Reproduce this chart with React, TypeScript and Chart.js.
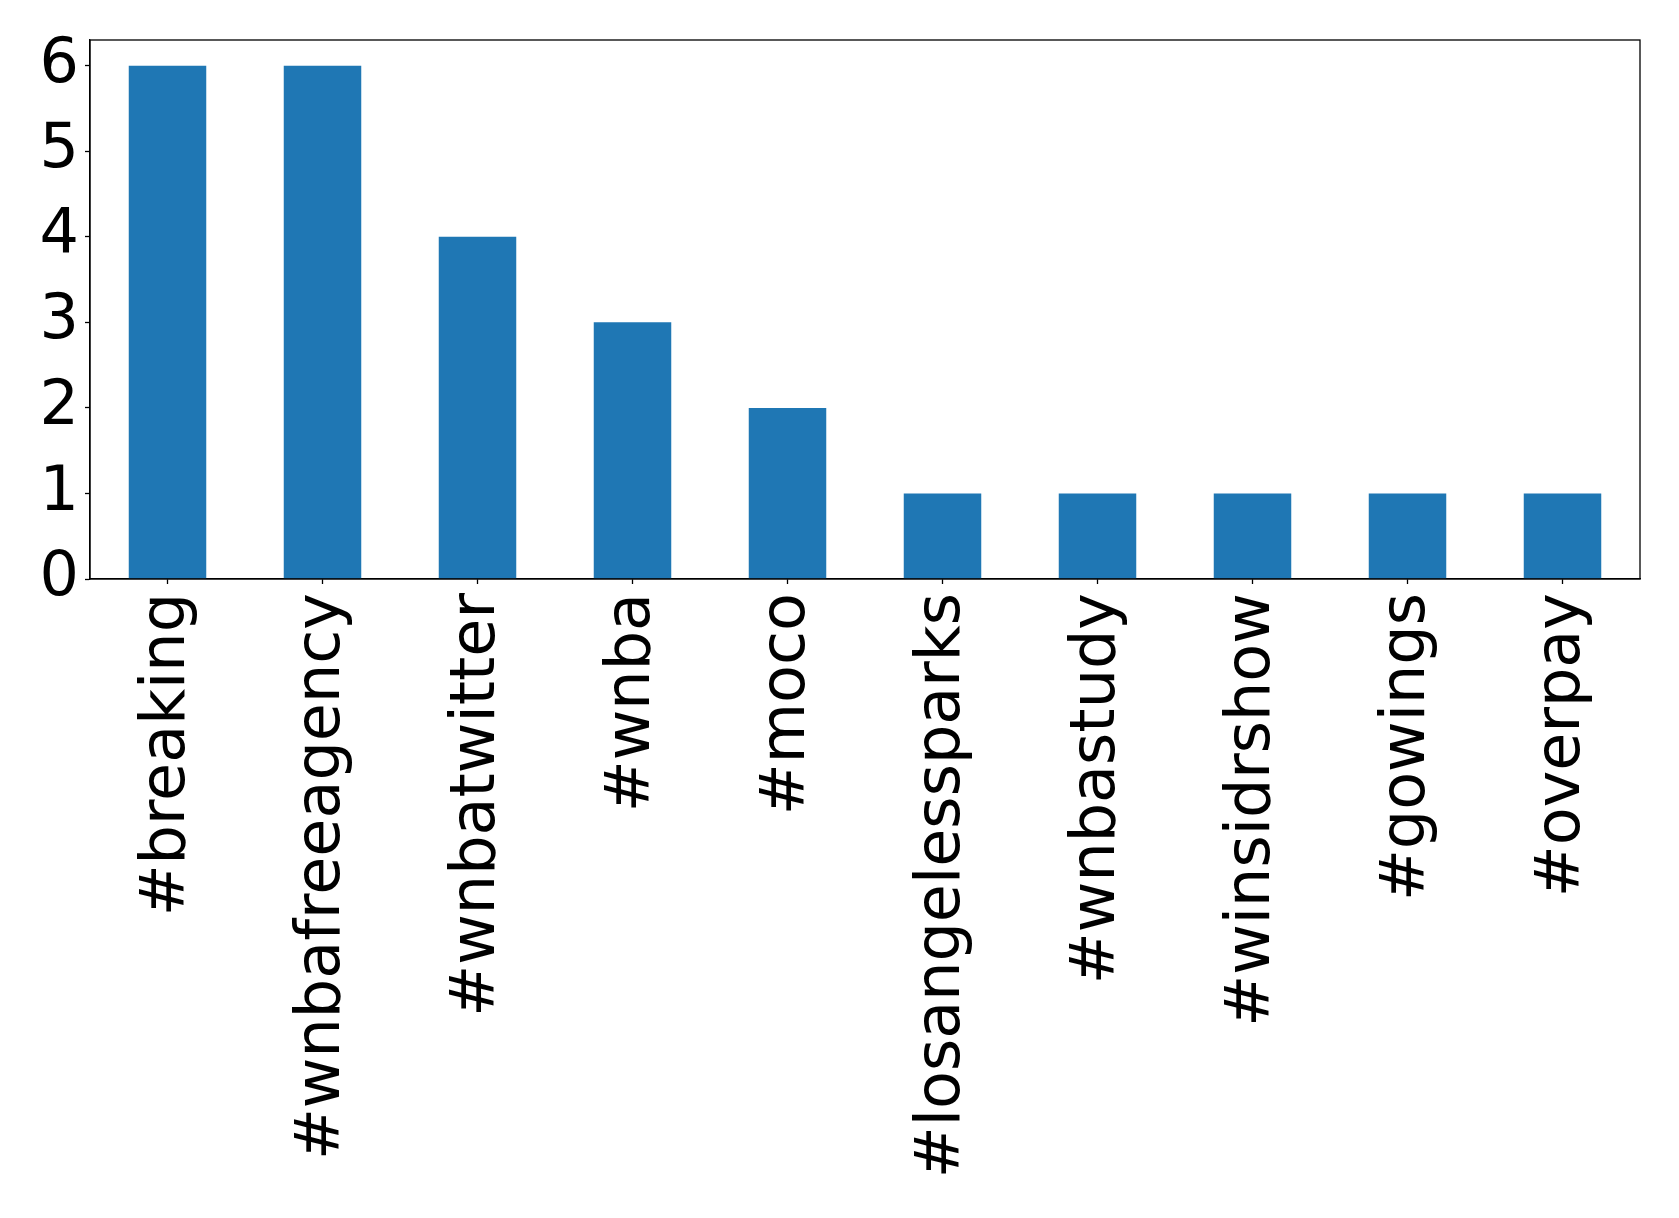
import React, { useEffect, useRef } from "react";
import { Chart, registerables } from "chart.js";

Chart.register(...registerables);

const categories = [
  "#breaking",
  "#wnbafreeagency",
  "#wnbatwitter",
  "#wnba",
  "#moco",
  "#losangelessparks",
  "#wnbastudy",
  "#winsidrshow",
  "#gowings",
  "#overpay",
];
const counts = [6, 6, 4, 3, 2, 1, 1, 1, 1, 1];
const yTicks = [0, 1, 2, 3, 4, 5, 6];

const W = 1679;
const H = 1218;
const FONT = "'DejaVu Sans', sans-serif";
const FONT_SIZE = 62;

const framePlugin = {
  id: "frame",
  afterDatasetsDraw(chart: any) {
    const { ctx, chartArea } = chart;
    ctx.save();
    ctx.strokeStyle = "#000";
    ctx.lineWidth = 1.3;
    ctx.strokeRect(chartArea.left, chartArea.top, chartArea.right - chartArea.left, chartArea.bottom - chartArea.top);
    ctx.restore();
  },
};

export default function App() {
  const ref = useRef<HTMLCanvasElement | null>(null);
  useEffect(() => {
    if (!ref.current) return;
    const chart = new Chart(ref.current, {
      type: "bar",
      data: {
        labels: categories,
        datasets: [
          {
            data: counts,
            backgroundColor: "#1f77b4",
            borderWidth: 0,
            barPercentage: 0.5,
            categoryPercentage: 1,
          },
        ],
      },
      options: {
        animation: false,
        responsive: false,
        maintainAspectRatio: false,
        layout: { padding: { top: 40, right: 39, left: 0, bottom: 0 } },
        plugins: { legend: { display: false }, tooltip: { enabled: false } },
        scales: {
          x: {
            grid: { offset: false, drawOnChartArea: false, drawTicks: true, tickLength: 5, tickColor: "#000", tickWidth: 1.3 },
            border: { display: true, color: "#000", width: 1.3 },
            ticks: {
              color: "#000",
              font: { family: FONT, size: FONT_SIZE },
              maxRotation: 90,
              minRotation: 90,
              autoSkip: false,
              padding: 9,
            },
            afterFit(scale: any) {
              scale.height = H - 579;
              scale.paddingLeft = 0;
              scale.paddingRight = 0;
            },
          },
          y: {
            min: 0,
            max: 6.3,
            afterBuildTicks(scale: any) {
              scale.ticks = yTicks.map((v) => ({ value: v }));
            },
            grid: { drawOnChartArea: false, drawTicks: true, tickLength: 5, tickColor: "#000", tickWidth: 1.3 },
            border: { display: true, color: "#000", width: 1.3 },
            ticks: {
              color: "#000",
              font: { family: FONT, size: FONT_SIZE },
              padding: 6,
            },
            afterFit(scale: any) {
              scale.width = 90;
              scale.paddingTop = 0;
              scale.paddingBottom = 0;
            },
          },
        },
      },
      plugins: [framePlugin],
    });
    return () => chart.destroy();
  }, []);
  return (
    <div style={{ position: "fixed", left: 0, top: 0, width: W, height: H, background: "#fff" }}>
      <canvas ref={ref} width={W} height={H} style={{ width: W, height: H, display: "block" }} />
    </div>
  );
}
